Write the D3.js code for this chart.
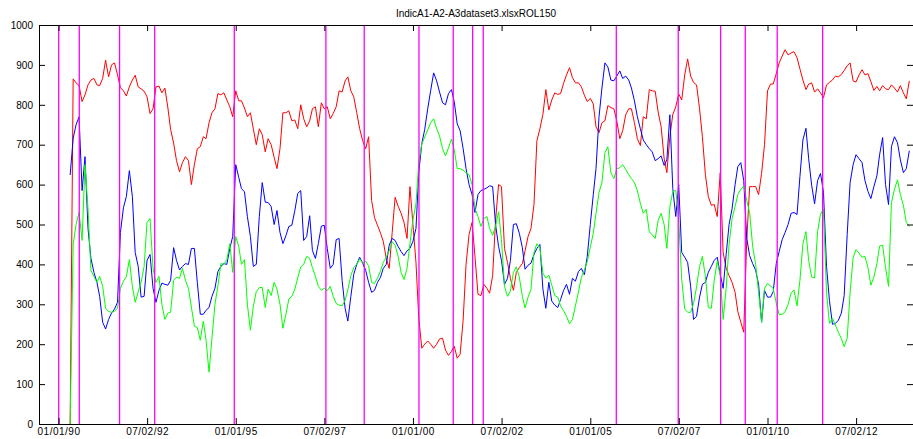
<!DOCTYPE html>
<html>
<head>
<meta charset="utf-8">
<script src="https://cdn.jsdelivr.net/npm/d3@7"></script>
<style>
  body { margin: 0; background: #fff; }
  svg { display: block; font-family: "Liberation Sans", Arial, sans-serif; }
</style>
</head>
<body>
<svg width="913" height="439"></svg>
<script>
const title = "IndicA1-A2-A3dataset3.xlsxROL150";

// monthly samples, first one is May 1990
const firstMonth = "1990-05-01";

const red = [
  0, 865, 855, 848, 808, 825, 850, 862, 866, 850, 848, 866,
  912, 870, 900, 905, 875, 843, 835, 822, 845, 862, 874, 845,
  840, 834, 820, 778, 790, 845, 847, 830, 842, 792, 738, 704,
  660, 632, 655, 670, 660, 600, 650, 690, 695, 720, 715, 755,
  780, 790, 828, 825, 830, 812, 795, 770, 835, 810, 810, 792,
  770, 780, 740, 700, 740, 725, 682, 715, 700, 668, 640, 690,
  780, 780, 785, 760, 762, 740, 800, 765, 745, 760, 790, 795,
  745, 805, 790, 795, 765, 778, 795, 835, 832, 860, 870, 835,
  820, 780, 740, 710, 690, 720, 560, 517, 498, 478, 458, 415,
  390, 480, 568, 546, 528, 505, 465, 595, 500, 405, 265, 190,
  200, 208, 200, 190, 200, 213, 215, 185, 172, 182, 195, 165,
  175, 260, 400, 475, 505, 420, 325, 322, 350, 340, 328, 372,
  510, 600, 595, 440, 405, 365, 335, 380, 392, 402, 434, 470,
  490, 550, 710, 740, 776, 838, 787, 812, 830, 826, 828, 854,
  875, 893, 868, 855, 855, 845, 824, 808, 816, 802, 745, 730,
  755, 760, 798, 793, 790, 760, 715, 735, 775, 790, 790, 755,
  715, 698, 770, 765, 838, 835, 834, 782, 745, 665, 630, 720,
  776, 795, 827, 812, 875, 915, 872, 856, 850, 790, 720, 625,
  570, 548, 550, 520, 630, 430, 390, 372, 355, 330, 282, 255,
  230, 460, 595, 595, 595, 575, 628, 700, 835, 852, 852, 878,
  905, 922, 938, 925, 930, 933, 918, 890, 862, 838, 852, 855,
  832, 840, 830, 818, 850, 856, 862, 872, 870, 876, 886, 898,
  905, 860, 857, 875, 888, 875, 878, 858, 836, 846, 835, 848,
  840, 838, 850, 842, 832, 848, 830, 815, 860
];

const blue = [
  624, 716, 750, 770, 585, 670, 490, 415, 380, 355, 320, 255,
  238, 262, 278, 288, 305, 480, 542, 570, 635, 570, 430, 395,
  318, 320, 410, 425, 340, 305, 335, 353, 350, 348, 360, 442,
  410, 386, 395, 402, 400, 440, 440, 355, 275, 275, 285, 292,
  320, 340, 382, 395, 402, 400, 440, 470, 650, 618, 590, 582,
  520, 470, 395, 400, 520, 605, 556, 555, 545, 500, 535, 480,
  452, 472, 495, 498, 535, 578, 585, 460, 470, 522, 435, 415,
  452, 496, 498, 440, 390, 400, 462, 465, 360, 290, 258, 320,
  375, 400, 418, 403, 385, 355, 330, 335, 355, 368, 390, 400,
  448, 465, 460, 445, 432, 422, 434, 440, 458, 490, 630, 703,
  738, 790, 835, 880, 860, 832, 805, 800, 828, 838, 808, 752,
  735, 690, 640, 600, 575, 530, 575, 585, 588, 592, 597, 595,
  500, 445, 410, 350, 365, 410, 500, 502, 478, 442, 388, 398,
  403, 425, 440, 450, 338, 290, 355, 308, 298, 292, 312, 335,
  350, 325, 365, 358, 382, 390, 374, 420, 500, 575, 640, 770,
  842, 905, 895, 862, 860, 872, 885, 866, 872, 862, 842, 810,
  770, 740, 712, 700, 690, 682, 660, 665, 672, 648, 662, 775,
  590, 520, 600, 430, 418, 405, 345, 262, 270, 318, 350, 355,
  380, 395, 410, 418, 375, 340, 425, 500, 540, 600, 645, 655,
  610, 465, 422, 402, 385, 350, 255, 335, 318, 318, 332, 402,
  432, 462, 480, 500, 528, 530, 525, 620, 712, 741, 665, 598,
  552, 610, 628, 580, 395, 310, 250, 252, 260, 278, 322, 475,
  605, 650, 675, 665, 655, 610, 583, 565, 595, 622, 675, 718,
  600, 550, 695, 720, 705, 662, 630, 640, 685
];

const green = [
  0, 450, 500, 530, 460, 650, 540, 385, 370, 355, 370, 345,
  290, 282, 280, 283, 290, 340, 358, 369, 412, 345, 305, 331,
  355, 395, 505, 515, 390, 355, 370, 300, 262, 278, 280, 360,
  368, 365, 390, 360, 340, 293, 245, 242, 210, 258, 210, 130,
  215, 300, 346, 402, 400, 412, 452, 380, 470, 445, 400, 412,
  300, 235, 295, 332, 342, 342, 292, 338, 322, 355, 338, 300,
  240, 275, 313, 320, 338, 366, 394, 400, 420, 415, 392, 370,
  345, 335, 340, 334, 345, 320, 302, 298, 296, 310, 336, 372,
  392, 400, 414, 403, 408, 396, 355, 352, 366, 384, 405, 418,
  434, 457, 448, 420, 380, 362, 390, 452, 512, 552, 655, 702,
  719, 737, 755, 765, 740, 722, 690, 672, 692, 714, 688, 640,
  640, 636, 630, 625, 600, 540, 520, 495, 515, 520, 490, 473,
  495, 532, 462, 345, 320, 333, 380, 394, 368, 320, 291, 318,
  337, 430, 452, 440, 378, 366, 373, 348, 322, 318, 296, 284,
  270, 251, 262, 296, 331, 367, 386, 407, 443, 478, 528, 580,
  605, 680, 695, 630, 615, 640, 642, 650, 638, 625, 615, 605,
  585, 553, 528, 538, 482, 474, 465, 510, 528, 500, 440, 545,
  582, 586, 512, 362, 288, 280, 280, 302, 343, 395, 420, 370,
  292, 290, 360, 408, 372, 262, 340, 450, 515, 545, 575, 588,
  596, 560, 530, 445, 400, 330, 255, 340, 352, 346, 340, 303,
  274, 275, 281, 300, 328, 336, 296, 360, 452, 482, 410, 368,
  366, 482, 526, 538, 330, 252, 265, 248, 230, 214, 194, 215,
  330, 417, 437, 428, 418, 420, 392, 348, 368, 402, 446, 448,
  392, 345, 555, 588, 612, 575, 548, 505, 495
];

// vertical marker dates (magenta)
const markerDates = [
  "1990-01-03", "1990-08-03", "1991-09-22", "1992-09-18", "1994-12-17",
  "1997-07-18", "1998-08-17", "2000-03-03", "2001-02-19", "2001-09-07",
  "2001-12-25", "2005-09-26", "2007-06-26", "2008-09-05", "2009-05-17",
  "2010-04-11", "2011-07-23"
];

const tickDates = [
  "1990-01-01", "1992-07-02", "1995-01-01", "1997-07-02", "2000-01-01",
  "2002-07-02", "2005-01-01", "2007-07-02", "2010-01-01", "2012-07-02"
];
const tickLabels = [
  "01/01/90", "07/02/92", "01/01/95", "07/02/97", "01/01/00",
  "07/02/02", "01/01/05", "07/02/07", "01/01/10", "07/02/12"
];
const yTicks = [0, 100, 200, 300, 400, 500, 600, 700, 800, 900, 1000];

const parse = d3.utcParse("%Y-%m-%d");
const start = parse(firstMonth);
const months = red.map((_, i) => d3.utcMonth.offset(start, i));

const plotLeft = 39, plotRight = 913, plotTop = 25, plotBottom = 424;

const svg = d3.select("svg");

const x = d3.scaleUtc()
  .domain([parse("1989-06-14"), parse("2014-02-08")])
  .range([plotLeft, plotRight]);

const y = d3.scaleLinear()
  .domain([0, 1000])
  .range([plotBottom, plotTop]);

const line = d3.line()
  .x((d, i) => x(months[i]))
  .y(d => y(d));

const series = [
  { values: red, color: "#ff0000" },
  { values: blue, color: "#0000ff" },
  { values: green, color: "#00ff00" }
];

svg.append("g")
  .selectAll("path")
  .data(series)
  .join("path")
  .attr("fill", "none")
  .attr("stroke", d => d.color)
  .attr("stroke-width", 1)
  .attr("stroke-linejoin", "round")
  .attr("d", d => line(d.values));

svg.append("g")
  .selectAll("line")
  .data(markerDates.map(parse))
  .join("line")
  .attr("x1", d => x(d))
  .attr("x2", d => x(d))
  .attr("y1", plotTop)
  .attr("y2", plotBottom)
  .attr("stroke", "#ff00ff")
  .attr("stroke-width", 1.3);

// axes, ticks pointing inward
const dates = tickDates.map(parse);

svg.append("g")
  .attr("transform", `translate(0,${plotBottom})`)
  .call(d3.axisBottom(x).tickValues(dates)
    .tickFormat((d, i) => tickLabels[i])
    .tickSize(-6).tickPadding(4))
  .call(g => g.select(".domain").remove())
  .call(g => g.selectAll("text")
    .attr("font-size", 10)
    .attr("letter-spacing", 0.5)
    .attr("fill", "#000"));

svg.append("g")
  .attr("transform", `translate(0,${plotTop})`)
  .call(d3.axisTop(x).tickValues(dates).tickFormat("").tickSize(-6))
  .call(g => g.select(".domain").remove());

svg.append("g")
  .attr("transform", `translate(${plotLeft},0)`)
  .call(d3.axisLeft(y).tickValues(yTicks).tickFormat(d3.format("d"))
    .tickSize(-6).tickPadding(6))
  .call(g => g.select(".domain").remove())
  .call(g => g.selectAll("text")
    .attr("font-size", 10)
    .attr("fill", "#000"));

svg.append("g")
  .attr("transform", `translate(${plotRight},0)`)
  .call(d3.axisRight(y).tickValues(yTicks).tickFormat("").tickSize(-6))
  .call(g => g.select(".domain").remove());

svg.append("rect")
  .attr("x", plotLeft + 0.5)
  .attr("y", plotTop + 0.5)
  .attr("width", plotRight - plotLeft)
  .attr("height", plotBottom - plotTop)
  .attr("fill", "none")
  .attr("stroke", "#000");

svg.append("text")
  .attr("x", (plotLeft + plotRight) / 2)
  .attr("y", 17)
  .attr("text-anchor", "middle")
  .attr("font-size", 10)
  .text(title);
</script>
</body>
</html>
